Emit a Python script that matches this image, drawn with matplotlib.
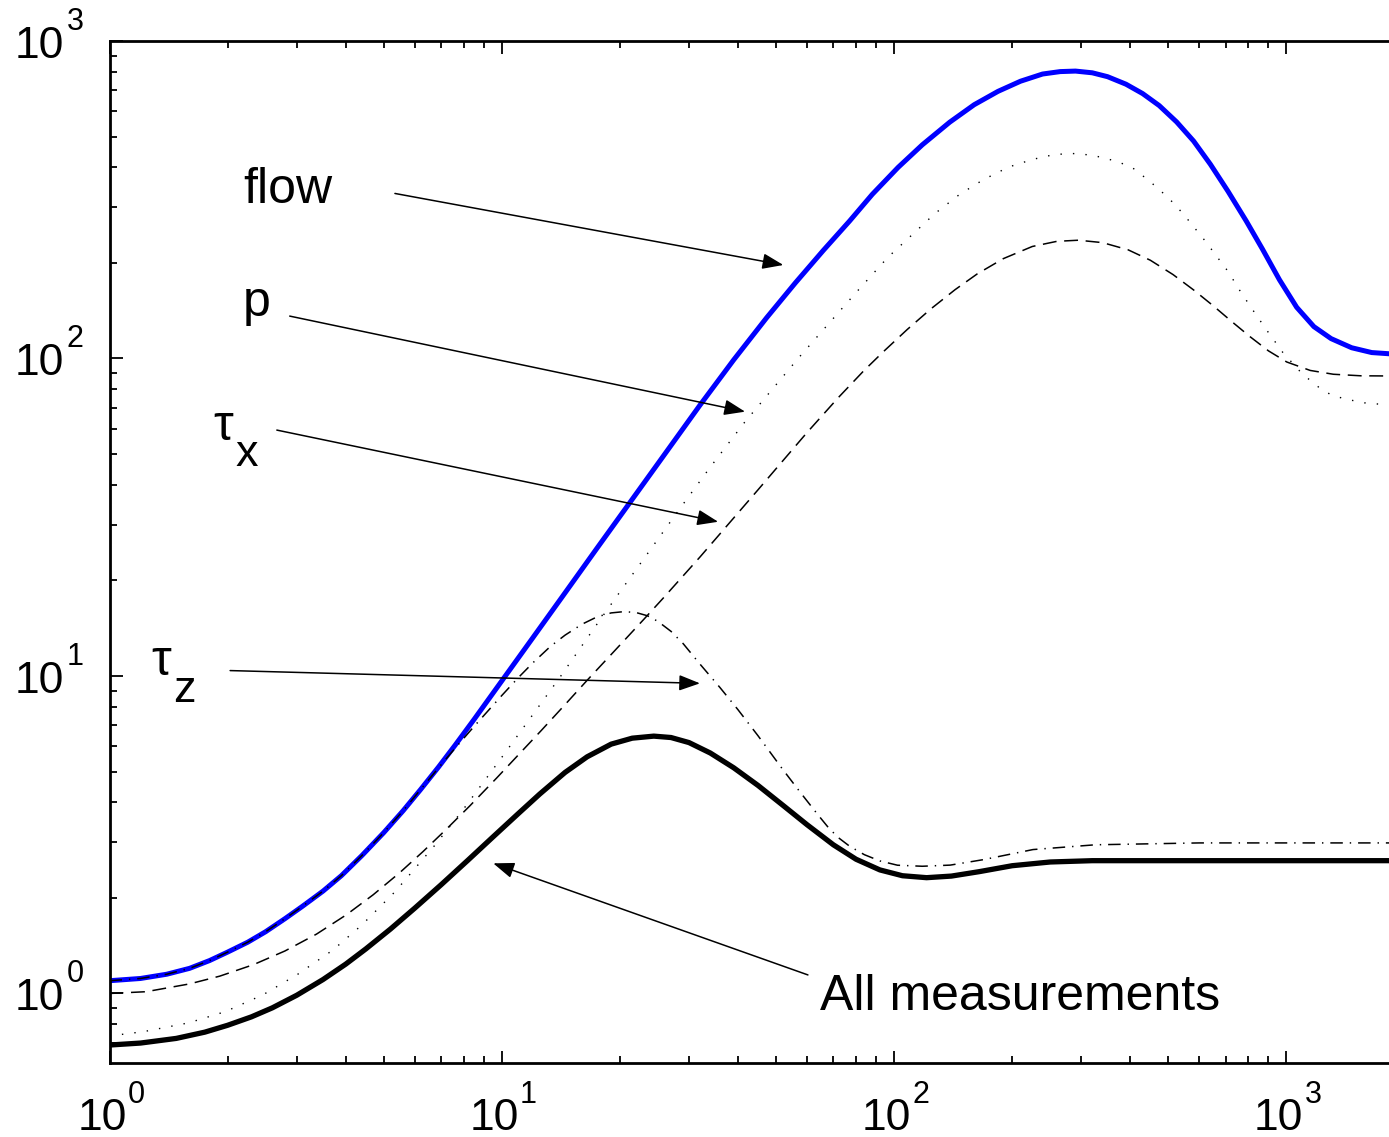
import matplotlib
matplotlib.use("Agg")
import matplotlib.pyplot as plt
from matplotlib.ticker import NullFormatter

plt.rcParams["font.family"] = ["Liberation Sans", "DejaVu Sans"]
plt.rcParams["lines.scale_dashes"] = False

# curves (x, y)
flow_x = [1, 1.2, 1.4, 1.6, 1.8, 2.0, 2.25, 2.5, 2.8, 3.1, 3.5, 3.9, 4.4, 5.0, 5.6, 6.2,
          6.9, 7.6, 8.5, 10, 12, 14.3, 17.5, 21.6, 26, 32, 39, 47.3, 56, 66, 77, 88,
          102.4, 118, 138.6, 160, 184, 210, 239, 265, 290, 320, 350, 390, 430, 474,
          525, 580, 640, 710, 790, 869, 960, 1062, 1175, 1300, 1467, 1650, 1826]
flow_y = [1.097, 1.115, 1.15, 1.20, 1.27, 1.35, 1.45, 1.565, 1.72, 1.88, 2.10, 2.35, 2.72,
          3.21, 3.76, 4.38, 5.17, 6.05, 7.30, 9.65, 13.2, 17.85, 25.3, 36.3, 49.9, 71.3,
          99.0, 134.3, 173, 219, 271, 329, 400, 471, 555, 630, 694, 747, 787, 801, 804,
          794, 772, 731, 683, 626, 556, 484, 409, 336, 271, 221, 177, 145, 126, 115.5,
          108.1, 104.4, 103.5]

p_x = [1, 1.22, 1.59, 1.97, 2.46, 3.02, 3.71, 4.39, 5.34, 6.75, 7.9, 9.9, 12, 14.1, 17.3,
       20, 22.9, 28.7, 34, 41.6, 57.3, 79.5, 96.3, 127, 147, 169, 196, 226, 252, 280,
       320, 372, 410, 456, 500, 545, 620, 710, 760, 812, 890, 979, 1098, 1213, 1300,
       1409, 1580, 1750, 1826]
p_y = [0.735, 0.758, 0.808, 0.876, 0.99, 1.15, 1.37, 1.64, 2.09, 2.93, 3.74, 5.45, 7.56,
       9.95, 14.3, 18.4, 23.2, 34.2, 45.5, 63, 101, 160, 208, 286, 329, 366, 401, 424,
       437, 443, 437, 417, 395, 355, 321, 286, 235, 188, 164, 145, 123, 104.5, 89.4,
       80.9, 76.8, 74.6, 72.5, 71.7, 71.5]

tx_x = [1, 1.24, 1.6, 1.91, 2.33, 2.8, 3.37, 4.02, 4.7, 5.5, 6.3, 7.2, 8.3, 9.7, 12.6,
        14.5, 16.6, 19.2, 23, 25.8, 32, 45, 59.8, 72, 83.7, 94, 108, 124, 143, 163, 190,
        225, 260, 295, 340, 395, 450, 514, 580, 651, 730, 808, 900, 1002, 1150, 1317,
        1550, 1826]
tx_y = [1.0, 1.013, 1.072, 1.134, 1.233, 1.361, 1.538, 1.771, 2.046, 2.405, 2.80, 3.28,
        3.905, 4.77, 6.73, 8.13, 9.77, 11.85, 15.07, 17.6, 23.7, 38.6, 58.2, 75.2, 91.5,
        105.2, 123.4, 143.2, 164.7, 184.8, 206.4, 225.3, 233.9, 235.8, 231.7, 219.9,
        203.9, 183.8, 164.4, 146.5, 129.9, 117.1, 105.7, 97.5, 91.7, 89.2, 88.2, 88.1]

tz_x = [1, 1.2, 1.4, 1.6, 1.8, 2.0, 2.25, 2.5, 2.8, 3.1, 3.5, 3.9, 4.4, 5.0, 5.6, 6.2,
        6.9, 7.6, 8.5, 10, 11, 12, 13.3, 14.5, 16, 17.5, 19, 20.5, 22, 23.5, 25, 27, 29,
        32, 36, 40, 45, 52, 58, 64, 68, 72, 77, 84, 92, 102, 118, 139, 169, 226, 326,
        600, 1826]
tz_y = [1.097, 1.115, 1.15, 1.20, 1.27, 1.35, 1.45, 1.565, 1.72, 1.88, 2.10, 2.35, 2.72,
        3.21, 3.76, 4.38, 5.14, 5.92, 6.94, 8.68, 9.86, 11.0, 12.39, 13.45, 14.55,
        15.36, 15.8, 15.95, 15.84, 15.48, 14.86, 13.82, 12.64, 10.9, 9.19, 7.83, 6.48,
        5.08, 4.26, 3.65, 3.33, 3.10, 2.91, 2.736, 2.615, 2.535, 2.516, 2.537, 2.64,
        2.84, 2.94, 2.98, 2.98]

all_x = [1, 1.2, 1.48, 1.75, 2.0, 2.3, 2.6, 3.0, 3.5, 4.0, 4.5, 5.2, 6.0, 7.0, 8.2, 9.5,
         11, 12.5, 14.5, 16.5, 19, 21.5, 24.4, 27, 30, 34, 39, 45, 52, 60, 70, 80, 92,
         105, 121, 140, 165, 200, 250, 320, 600, 1826]
all_y = [0.688, 0.698, 0.722, 0.7555, 0.794, 0.844, 0.901, 0.987, 1.106, 1.237, 1.381,
         1.595, 1.857, 2.199, 2.63, 3.114, 3.68, 4.25, 4.97, 5.565, 6.10, 6.37, 6.465,
         6.40, 6.17, 5.72, 5.14, 4.52, 3.92, 3.40, 2.94, 2.647, 2.45, 2.349, 2.316,
         2.343, 2.42, 2.526, 2.595, 2.62, 2.62, 2.62]

decades = [1, 10, 100, 1000]
exponents = ["0", "1", "2", "3"]

fig = plt.figure(figsize=(13.89, 11.37), dpi=100)
ax = fig.add_axes([109.5 / 1389, 1 - 1063 / 1137, 1 - 109.5 / 1389, (1063 - 41) / 1137])
ax.set_xscale("log")
ax.set_yscale("log")

ax.plot(p_x, p_y, color="k", lw=1.0, dashes=(1, 8))
ax.plot(tx_x, tx_y, color="k", lw=1.1, dashes=(10, 5.5))
ax.plot(flow_x, flow_y, color="#0000ff", lw=3.6)
ax.plot(tz_x, tz_y, color="k", lw=1.1, dashes=(9, 5, 1, 5))
ax.plot(all_x, all_y, color="k", lw=3.8)

ax.set_xlim(1, 1826)
ax.set_ylim(0.604, 1000)

for side in ["left", "bottom", "top"]:
    ax.spines[side].set_linewidth(2)
ax.spines["right"].set_visible(False)

ax.tick_params(which="both", direction="in", top=True, right=False, width=1.3)
ax.tick_params(which="major", length=9)
ax.tick_params(which="minor", length=5)
ax.xaxis.set_major_formatter(NullFormatter())
ax.yaxis.set_major_formatter(NullFormatter())

# tick labels drawn as "10" with a raised exponent, like the original
for v, e in zip(decades, exponents):
    ax.annotate("10", xy=(0, v), xycoords=("axes fraction", "data"), xytext=(-45.5, -17),
                textcoords="offset pixels", ha="right", va="baseline", fontsize=32,
                annotation_clip=False)
    ax.annotate(e, xy=(0, v), xycoords=("axes fraction", "data"), xytext=(-43, 11),
                textcoords="offset pixels", ha="left", va="baseline", fontsize=22,
                annotation_clip=False)
    ax.annotate("10", xy=(v, 0), xycoords=("data", "axes fraction"), xytext=(17, -67),
                textcoords="offset pixels", ha="right", va="baseline", fontsize=32,
                annotation_clip=False)
    ax.annotate(e, xy=(v, 0), xycoords=("data", "axes fraction"), xytext=(18, -40),
                textcoords="offset pixels", ha="left", va="baseline", fontsize=22,
                annotation_clip=False)

arrow = dict(arrowstyle="-|>,head_length=0.4,head_width=0.15", mutation_scale=32,
             color="k", lw=1.1, shrinkA=0, shrinkB=0)
fs = 36

ax.text(2.19, 309, "flow", fontsize=fs, va="baseline", ha="left")
ax.annotate("", xy=(52.2, 197), xytext=(5.34, 331), arrowprops=arrow)

ax.text(2.19, 136, "p", fontsize=fs, va="baseline", ha="left")
ax.annotate("", xy=(41.7, 68), xytext=(2.88, 136), arrowprops=arrow)

ax.text(1.837, 55.4, "τ", fontsize=fs, va="baseline", ha="left")
ax.text(2.09, 45.7, "x", fontsize=fs * 0.9, va="baseline", ha="left")
ax.annotate("", xy=(35.6, 30.6), xytext=(2.67, 59.5), arrowprops=arrow)

ax.text(1.276, 10.07, "τ", fontsize=fs, va="baseline", ha="left")
ax.text(1.451, 8.28, "z", fontsize=fs * 0.9, va="baseline", ha="left")
ax.annotate("", xy=(32.0, 9.48), xytext=(2.03, 10.4), arrowprops=arrow)

ax.text(64.7, 0.887, "All measurements", fontsize=fs, va="baseline", ha="left")
ax.annotate("", xy=(9.51, 2.57), xytext=(60.3, 1.144), arrowprops=arrow)

fig.savefig("out.png", dpi=100)
